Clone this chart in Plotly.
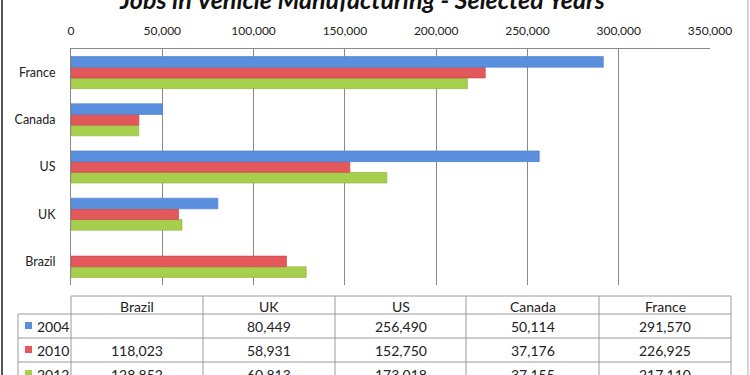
import plotly.graph_objects as go

# ---- data ----
countries = ["Brazil", "UK", "US", "Canada", "France"]
years = ["2004", "2010", "2012"]
jobs_2004 = [None, 80449, 256490, 50114, 291570]
jobs_2010 = [118023, 58931, 152750, 37176, 226925]
jobs_2012 = [128852, 60813, 173018, 37155, 217110]
x_ticks = [0, 50000, 100000, 150000, 200000, 250000, 300000, 350000]
title_text = "Jobs in Vehicle Manufacturing - Selected Years"

series = {"2004": jobs_2004, "2010": jobs_2010, "2012": jobs_2012}
colors = {"2004": "#5A8FDE", "2010": "#E2585B", "2012": "#A5CF4C"}
edge = {"2004": "#4A78C4", "2010": "#C44548", "2012": "#8DB33C"}

W, H = 750, 375
FONT = "Lato"


def px(x):
    return x / W


def py(y):
    return 1 - y / H


fig = go.Figure()
# bottom-to-top order within each group: 2012, 2010, 2004
for yr in ["2012", "2010", "2004"]:
    fig.add_trace(go.Bar(
        y=countries, x=series[yr], orientation="h", name=yr,
        marker=dict(color=colors[yr], line=dict(color=edge[yr], width=0.6)),
    ))

plot_l, plot_r, plot_t, plot_b = 71, 710, 49, 285

fig.update_layout(
    width=W, height=H,
    margin=dict(l=0, r=0, t=0, b=0),
    paper_bgcolor="white", plot_bgcolor="white",
    barmode="group", bargap=0.32, bargroupgap=0,
    showlegend=False,
    font=dict(family=FONT, size=12, color="#222"),
    xaxis=dict(
        domain=[px(plot_l), px(plot_r)], range=[0, 350000],
        side="top", tickvals=x_ticks,
        ticktext=[f"{v:,}" for v in x_ticks],
        showgrid=True, gridcolor="#8a8a8a", gridwidth=1,
        zeroline=False, showline=True, linecolor="#8a8a8a", linewidth=1,
        ticks="", ticklabelstandoff=8, automargin=False,
        tickfont=dict(family=FONT, size=12, color="#222"),
        fixedrange=True,
    ),
    yaxis=dict(
        domain=[py(plot_b), py(plot_t)],
        categoryorder="array", categoryarray=countries,
        showgrid=False, zeroline=False, showline=True,
        linecolor="#8a8a8a", linewidth=1, ticks="",
        ticklabelstandoff=12, automargin=False,
        tickfont=dict(family=FONT, size=12.5, color="#222"),
    ),
)

shapes = []
annotations = []

# title (clipped at the top as in the reference)
annotations.append(dict(
    text=title_text, x=px(362), y=py(16), xref="paper", yref="paper",
    xanchor="center", yanchor="bottom", showarrow=False,
    font=dict(family=FONT, size=25, weight="bold", style="italic", color="#111"),
))

# outer frame lines
shapes.append(dict(type="line", xref="paper", yref="paper",
                   x0=px(2), x1=px(2), y0=0, y1=1,
                   line=dict(color="#555", width=2)))
shapes.append(dict(type="line", xref="paper", yref="paper",
                   x0=px(748), x1=px(748), y0=0, y1=1,
                   line=dict(color="#aaa", width=1)))

# data table
col_x = [71, 203, 335, 466, 599, 731]
row_y = [296, 314, 338, 362, 386]
lab_l = 18
tline = dict(color="#9a9a9a", width=1)

# horizontal lines
shapes.append(dict(type="line", xref="paper", yref="paper",
                   x0=px(col_x[0]), x1=px(col_x[-1]), y0=py(row_y[0]), y1=py(row_y[0]), line=tline))
for ry in row_y[1:]:
    shapes.append(dict(type="line", xref="paper", yref="paper",
                       x0=px(lab_l), x1=px(col_x[-1]), y0=py(ry), y1=py(ry), line=tline))
# vertical lines
for cx in col_x:
    shapes.append(dict(type="line", xref="paper", yref="paper",
                       x0=px(cx), x1=px(cx), y0=py(row_y[0]), y1=py(row_y[-1]), line=tline))
shapes.append(dict(type="line", xref="paper", yref="paper",
                   x0=px(lab_l), x1=px(lab_l), y0=py(row_y[1]), y1=py(row_y[-1]), line=tline))

tfont = dict(family=FONT, size=14, color="#222")
# header: countries
for i, c in enumerate(countries):
    cx = (col_x[i] + col_x[i + 1]) / 2
    annotations.append(dict(text=c, x=px(cx), y=py((row_y[0] + row_y[1]) / 2 + 1),
                            xref="paper", yref="paper", xanchor="center", yanchor="middle",
                            showarrow=False, font=tfont))
# body rows
for r, yr in enumerate(years):
    cy = (row_y[r + 1] + row_y[r + 2]) / 2
    shapes.append(dict(type="rect", xref="paper", yref="paper",
                       x0=px(25), x1=px(32), y0=py(cy - 4), y1=py(cy + 3),
                       fillcolor=colors[yr], line=dict(width=0)))
    annotations.append(dict(text=yr, x=px(35), y=py(cy), xref="paper", yref="paper",
                            xanchor="left", yanchor="middle", showarrow=False, font=tfont))
    for i, v in enumerate(series[yr]):
        if v is None:
            continue
        cx = (col_x[i] + col_x[i + 1]) / 2
        annotations.append(dict(text=f"{v:,}", x=px(cx), y=py(cy), xref="paper", yref="paper",
                                xanchor="center", yanchor="middle", showarrow=False, font=tfont))

fig.update_layout(shapes=shapes, annotations=annotations)
fig.write_html(
    "out.html",
    config={"displayModeBar": False},
    post_script="document.body.style.margin='0';document.body.style.padding='0';"
                "document.body.style.overflow='hidden';",
)
